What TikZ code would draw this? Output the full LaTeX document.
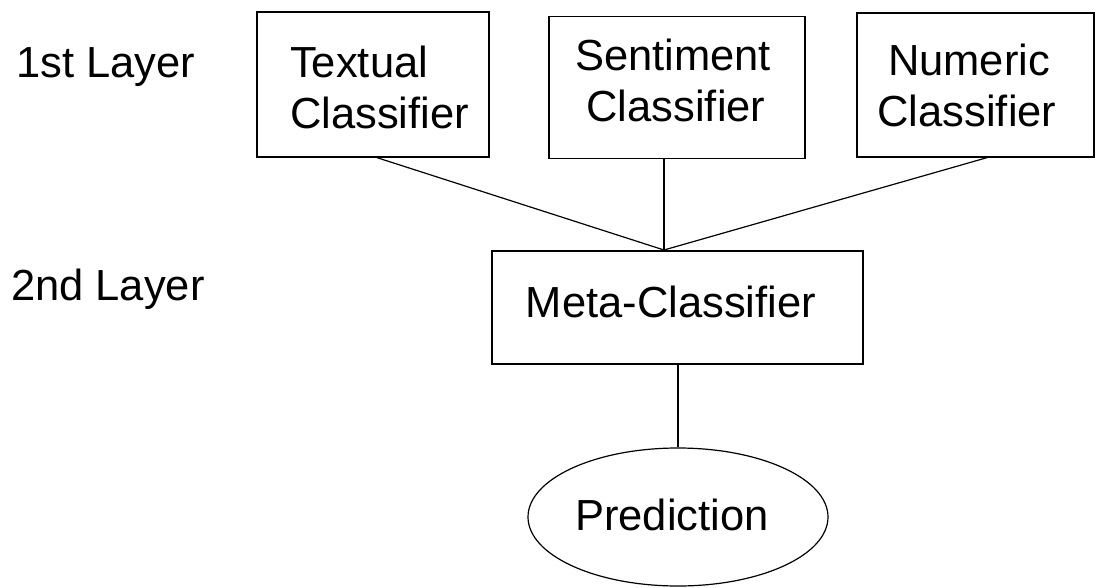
\documentclass[tikz,border=0pt]{standalone}
\usepackage{fontspec}
\setmainfont{Liberation Sans}
\usetikzlibrary{shapes.geometric}
\begin{document}
\begin{tikzpicture}[x=1pt,y=-1pt,
  box/.style={draw=black,line width=1.3pt,inner sep=0pt},
  txt/.style={inner sep=0pt,font=\fontsize{43.5}{48}\selectfont},
  conn/.style={draw=black,line width=1.2pt}]
\useasboundingbox[fill=white] (0,0) rectangle (1096,587);
% layer labels
\node[txt,anchor=base west] (l1) at (16,77) {1st Layer};
\node[txt,anchor=base west] (l2) at (11,300) {2nd Layer};
% first layer boxes
\node[box,minimum width=232pt,minimum height=145pt] (t) at (373,84.5) {};
\node[box,minimum width=256pt,minimum height=142pt] (s) at (677,87.5) {};
\node[box,minimum width=237pt,minimum height=144pt] (n) at (975.5,85) {};
\node[txt,anchor=base west] (t1) at (290,77) {Textual};
\node[txt,anchor=base west] (t2) at (290,128) {Classifier};
\node[txt,anchor=base] (s1) at (673,70) {Sentiment};
\node[txt,anchor=base] (s2) at (676,121) {Classifier};
\node[txt,anchor=base] (n1) at (969,75) {Numeric};
\node[txt,anchor=base] (n2) at (967,126) {Classifier};
% second layer
\node[box,minimum width=371pt,minimum height=113pt] (m) at (677.5,307.5) {};
\node[txt,anchor=base] (m1) at (671,317) {Meta-Classifier};
\coordinate (j) at (664,250);
% prediction
\node[draw=black,line width=1.2pt,ellipse,minimum width=300pt,minimum height=138pt,inner sep=0pt] (p) at (678,517) {};
\node[txt,anchor=base] (p1) at (672,530) {Prediction};
% connectors
\draw[conn] (t.south -| 377,0) -- (j);
\draw[conn] (s.south -| j) -- (j);
\draw[conn] (n.south -| 987,0) -- (j);
\draw[conn] (m.south -| p.north) -- (p.north);
\end{tikzpicture}
\end{document}
